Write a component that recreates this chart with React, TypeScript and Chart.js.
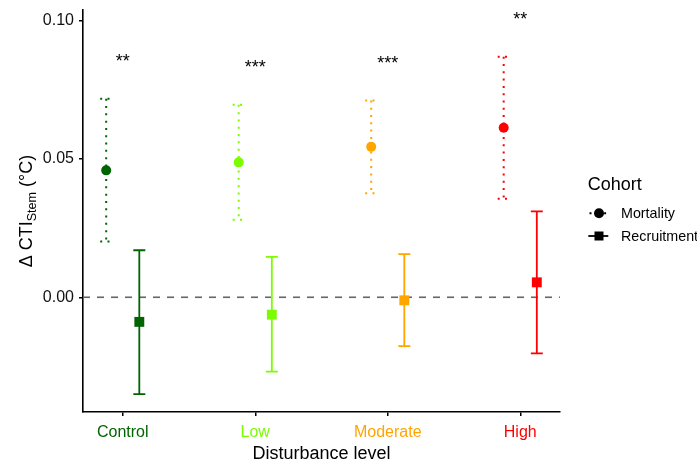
import React, { useEffect, useRef } from 'react';
import { Chart, registerables } from 'chart.js';

Chart.register(...registerables);

const categories = ['Control', 'Low', 'Moderate', 'High'];
const categoryColors = ['#006400', '#7CFC00', '#FFA500', '#FF0000'];
const cohorts = ['Mortality', 'Recruitment'];

const mortalityMean = [0.0459, 0.0488, 0.0544, 0.0613];
const mortalityLower = [0.0202, 0.028, 0.0376, 0.0356];
const mortalityUpper = [0.0718, 0.0696, 0.0712, 0.087];

const recruitmentMean = [-0.0089, -0.0063, -0.0011, 0.0054];
const recruitmentLower = [-0.035, -0.0269, -0.0177, -0.0203];
const recruitmentUpper = [0.017, 0.0146, 0.0156, 0.0311];

const significance = ['**', '***', '***', '**'];
const significanceY = [0.0851, 0.083, 0.0844, 0.1002];

const yTicks = [0, 0.05, 0.1];
const dodge = 0.125;

const FONT = '"Liberation Sans", Arial, Helvetica, sans-serif';

const decorPlugin = {
  id: 'decor',
  beforeDatasetsDraw(chart: any) {
    const { ctx, chartArea, scales } = chart;
    const x = scales.x;
    const y = scales.y;
    // zero reference line
    const y0 = y.getPixelForValue(0);
    ctx.save();
    ctx.strokeStyle = '#666666';
    ctx.lineWidth = 1.6;
    ctx.setLineDash([7, 7]);
    ctx.beginPath();
    ctx.moveTo(chartArea.left, y0);
    ctx.lineTo(chartArea.right, y0);
    ctx.stroke();
    ctx.restore();
    // error bars
    chart.data.datasets.forEach((ds: any, di: number) => {
      const meta = chart.getDatasetMeta(di);
      meta.data.forEach((pt: any, i: number) => {
        const px = x.getPixelForValue(ds.data[i].x);
        const top = y.getPixelForValue(ds.errHigh[i]);
        const bot = y.getPixelForValue(ds.errLow[i]);
        const w = 6;
        ctx.save();
        ctx.strokeStyle = categoryColors[i];
        ctx.lineWidth = ds.dotted ? 2 : 1.8;
        ctx.setLineDash(ds.dotted ? [2, 5.3] : []);
        ctx.beginPath();
        ctx.moveTo(px - w, top);
        ctx.lineTo(px + w, top);
        ctx.moveTo(px, top);
        ctx.lineTo(px, bot);
        ctx.moveTo(px - w, bot);
        ctx.lineTo(px + w, bot);
        ctx.stroke();
        ctx.restore();
      });
    });
  },
  afterDraw(chart: any) {
    const { ctx, chartArea, scales } = chart;
    const x = scales.x;
    const y = scales.y;
    ctx.save();
    // significance stars
    ctx.fillStyle = '#000';
    ctx.font = `18px ${FONT}`;
    ctx.textAlign = 'center';
    ctx.textBaseline = 'middle';
    significance.forEach((s, i) => {
      ctx.fillText(s, x.getPixelForValue(i + 1), y.getPixelForValue(significanceY[i]));
    });

    // x axis title
    ctx.textBaseline = 'alphabetic';
    ctx.textAlign = 'center';
    ctx.font = `18px ${FONT}`;
    ctx.fillText('Disturbance level', (chartArea.left + chartArea.right) / 2, 459.3);

    // y axis title with subscript
    ctx.save();
    ctx.translate(32, (chartArea.top + chartArea.bottom) / 2);
    ctx.rotate(-Math.PI / 2);
    ctx.textAlign = 'left';
    const m1 = '\u0394 CTI';
    const sub = 'Stem';
    const m2 = ' (\u00B0C)';
    ctx.font = `18px ${FONT}`;
    const w1 = ctx.measureText(m1).width;
    const w3 = ctx.measureText(m2).width;
    ctx.font = `12.6px ${FONT}`;
    const w2 = ctx.measureText(sub).width;
    const x0 = -(w1 + w2 + w3) / 2;
    ctx.font = `18px ${FONT}`;
    ctx.fillText(m1, x0, 0);
    ctx.font = `12.6px ${FONT}`;
    ctx.fillText(sub, x0 + w1, 4);
    ctx.font = `18px ${FONT}`;
    ctx.fillText(m2, x0 + w1 + w2, 0);
    ctx.restore();

    // legend
    ctx.textAlign = 'left';
    ctx.textBaseline = 'alphabetic';
    ctx.fillStyle = '#000';
    ctx.font = `18px ${FONT}`;
    ctx.fillText('Cohort', 587.7, 189.7);
    const keyX = 599;
    const rows = [213.3, 236];
    // mortality key
    ctx.strokeStyle = '#000';
    ctx.lineWidth = 2;
    ctx.setLineDash([2, 5.3]);
    ctx.beginPath();
    ctx.moveTo(589.5, rows[0]);
    ctx.lineTo(608.5, rows[0]);
    ctx.stroke();
    ctx.setLineDash([]);
    ctx.beginPath();
    ctx.arc(keyX, rows[0], 5, 0, Math.PI * 2);
    ctx.fill();
    // recruitment key
    ctx.lineWidth = 1.8;
    ctx.beginPath();
    ctx.moveTo(588.3, rows[1]);
    ctx.lineTo(608.3, rows[1]);
    ctx.stroke();
    ctx.fillRect(keyX - 4.5, rows[1] - 4.5, 9, 9);
    ctx.font = `14.3px ${FONT}`;
    cohorts.forEach((c, i) => {
      ctx.fillText(c, 621, rows[i] + 5);
    });
    ctx.restore();
  },
};

export default function App() {
  const canvasRef = useRef<HTMLCanvasElement | null>(null);

  useEffect(() => {
    if (!canvasRef.current) return;
    const chart = new Chart(canvasRef.current, {
      type: 'scatter',
      data: {
        datasets: [
          {
            label: cohorts[0],
            data: mortalityMean.map((v, i) => ({ x: i + 1 - dodge, y: v })),
            pointStyle: 'circle',
            pointRadius: 5,
            pointHoverRadius: 5,
            pointBackgroundColor: categoryColors,
            pointBorderColor: categoryColors,
            pointBorderWidth: 0,
            showLine: false,
            errLow: mortalityLower,
            errHigh: mortalityUpper,
            dotted: true,
          } as any,
          {
            label: cohorts[1],
            data: recruitmentMean.map((v, i) => ({ x: i + 1 + dodge, y: v })),
            pointStyle: 'rect',
            pointRadius: 7,
            pointHoverRadius: 7,
            pointBackgroundColor: categoryColors,
            pointBorderColor: categoryColors,
            pointBorderWidth: 0,
            showLine: false,
            errLow: recruitmentLower,
            errHigh: recruitmentUpper,
            dotted: false,
          } as any,
        ],
      },
      options: {
        responsive: false,
        animation: false,
        devicePixelRatio: 1,
        layout: { padding: { top: 10, right: 137, left: 0, bottom: 0 }, autoPadding: false },
        plugins: {
          legend: { display: false },
          tooltip: { enabled: false },
          title: { display: false },
        },
        events: [],
        scales: {
          x: {
            type: 'linear',
            min: 0.7,
            max: 4.3,
            afterBuildTicks: (s: any) => {
              s.ticks = categories.map((_, i) => ({ value: i + 1 }));
            },
            afterFit: (s: any) => {
              s.height = 53;
              s.paddingLeft = 0;
              s.paddingRight = 0;
            },
            ticks: {
              callback: (v: any) => categories[Math.round(Number(v)) - 1] ?? '',
              color: (c: any) => categoryColors[c.index] ?? '#000',
              font: { size: 16, family: FONT },
              padding: 7,
              maxRotation: 0,
              autoSkip: false,
            },
            grid: {
              drawOnChartArea: false,
              drawTicks: true,
              tickLength: 4,
              color: '#000',
              lineWidth: 1.5,
            },
            border: { display: true, color: '#000', width: 1.6 },
          },
          y: {
            type: 'linear',
            min: -0.0415,
            max: 0.1039,
            afterBuildTicks: (s: any) => {
              s.ticks = yTicks.map((v) => ({ value: v }));
            },
            afterFit: (s: any) => {
              s.width = 83;
              s.paddingTop = 0;
              s.paddingBottom = 0;
            },
            ticks: {
              callback: (v: any) => Number(v).toFixed(2),
              color: '#111111',
              font: { size: 16, family: FONT },
              padding: 5,
            },
            grid: {
              drawOnChartArea: false,
              drawTicks: true,
              tickLength: 4,
              color: '#000',
              lineWidth: 1.5,
            },
            border: { display: true, color: '#000', width: 1.6 },
          },
        },
      } as any,
      plugins: [decorPlugin],
    });
    return () => chart.destroy();
  }, []);

  return (
    <div style={{ position: 'absolute', left: 0, top: 0, width: 697, height: 465, background: '#fff' }}>
      <canvas ref={canvasRef} width={697} height={465} />
    </div>
  );
}
